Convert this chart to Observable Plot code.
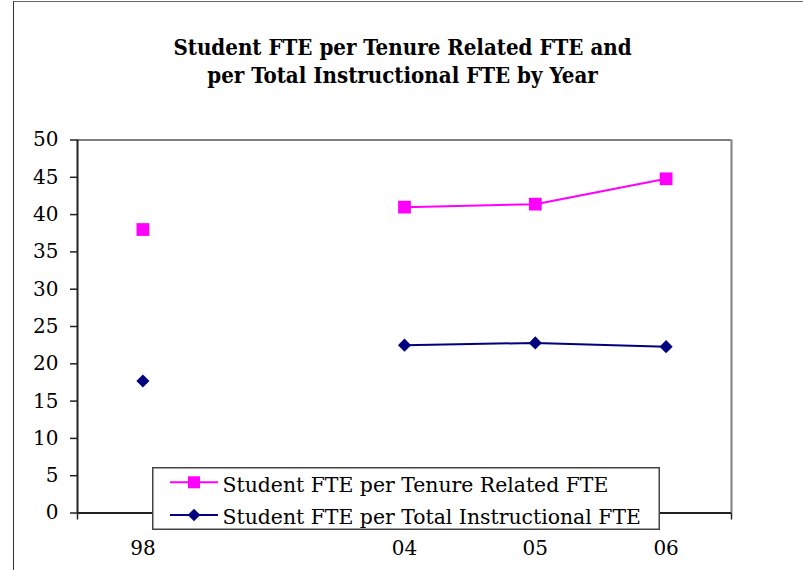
<!DOCTYPE html>
<html><head><meta charset="utf-8">
<script src="https://cdn.jsdelivr.net/npm/d3@7"></script>
<script src="https://cdn.jsdelivr.net/npm/@observablehq/plot@0.6"></script>
<style>
body{margin:0;background:#fff;}
#wrap{position:relative;width:803px;height:570px;overflow:hidden;background:#fff;font-family:"DejaVu Serif",serif;}
#frame{position:absolute;left:13px;top:1px;width:820px;height:600px;border-left:1.5px solid #333;border-top:1.5px solid #666;pointer-events:none;}
#title{position:absolute;left:0;top:34.3px;width:805px;text-align:center;font-family:"DejaVu Serif Condensed","DejaVu Serif",serif;font-stretch:condensed;font-weight:bold;font-size:22.1px;line-height:27.6px;color:#000;white-space:nowrap;}
#chart{position:absolute;left:0;top:120px;}
#legend{position:absolute;left:152px;top:467px;}
#legend text{font-family:"DejaVu Serif",serif;font-size:20.4px;}
</style>
</head><body>
<div id="wrap">
  <div id="title">Student FTE per Tenure Related FTE and<br>per Total Instructional FTE by Year</div>
  <div id="chart"></div>
  <div id="legend"></div>
  <div id="frame"></div>
</div>
<script>
const years = ["98", "", "04", "05", "06"];
const tenureRelated = [38.0, null, 41.0, 41.4, 44.8];
const totalInstructional = [17.7, null, 22.5, 22.8, 22.3];
const yTicks = [0, 5, 10, 15, 20, 25, 30, 35, 40, 45, 50];
const seriesNames = ["Student FTE per Tenure Related FTE", "Student FTE per Total Instructional FTE"];
const pink = "#FF00FF", navy = "#000080";

const tenureRows = years.map((year, i) => ({i, year, v: tenureRelated[i]}));
const instrRows = years.map((year, i) => ({i, year, v: totalInstructional[i]}));
const idx = years.map((d, i) => i);
const bounds = years.map((d, i) => i - 0.5).concat([years.length - 0.5]);

const chart = Plot.plot({
  width: 803, height: 450,
  marginLeft: 77, marginRight: 72, marginTop: 19.5, marginBottom: 57.5,
  x: {type: "linear", domain: [-0.5, years.length - 0.5]},
  y: {domain: [0, 50]},
  style: {fontFamily: '"DejaVu Serif", serif', fontSize: "20px", color: "#000", background: "white", overflow: "visible"},
  marks: [
    Plot.ruleY([50], {stroke: "#808080", strokeWidth: 2}),
    Plot.ruleX([years.length - 0.5], {stroke: "#808080", strokeWidth: 2}),
    Plot.axisX({ticks: bounds, tickSize: 7, tickFormat: () => "", label: null, stroke: "#222", strokeWidth: 1.5}),
    Plot.axisX({ticks: idx, tickSize: 0, tickPadding: 28, tickFormat: i => years[i], label: null, fontSize: 20}),
    Plot.axisY({ticks: yTicks, tickSize: 7, tickPadding: 12, label: null, fontSize: 20, stroke: "#222", strokeWidth: 1.5}),
    Plot.ruleX([-0.5], {stroke: "#222", strokeWidth: 2}),
    Plot.ruleY([0], {stroke: "#222", strokeWidth: 2}),
    Plot.line(tenureRows, {x: "i", y: "v", stroke: pink, strokeWidth: 2}),
    Plot.dot(tenureRows, {x: "i", y: "v", symbol: "square", r: 7.2, fill: pink, stroke: null}),
    Plot.line(instrRows, {x: "i", y: "v", stroke: navy, strokeWidth: 2}),
    Plot.dot(instrRows, {x: "i", y: "v", symbol: "diamond2", r: 5.9, fill: navy, stroke: null})
  ]
});
document.getElementById("chart").appendChild(chart);

// legend
const lw = 508, lh = 63;
const leg = d3.select("#legend").append("svg").attr("width", lw).attr("height", lh);
leg.append("rect").attr("x", 0.75).attr("y", 0.75).attr("width", lw - 1.5).attr("height", lh - 1.5)
  .attr("fill", "white").attr("stroke", "#444").attr("stroke-width", 1.5);
const rowsY = [15.3, 48];
const colors = [pink, navy];
seriesNames.forEach((name, k) => {
  const cy = rowsY[k];
  leg.append("line").attr("x1", 18).attr("x2", 66).attr("y1", cy).attr("y2", cy)
    .attr("stroke", colors[k]).attr("stroke-width", 2);
  if (k === 0) {
    leg.append("rect").attr("x", 42 - 6).attr("y", cy - 6).attr("width", 12).attr("height", 12).attr("fill", pink);
  } else {
    leg.append("path").attr("d", `M42,${cy - 6.3}L48.3,${cy}L42,${cy + 6.3}L35.7,${cy}Z`).attr("fill", navy);
  }
  leg.append("text").attr("x", 70.5).attr("y", cy + 9.2).attr("fill", "#000").text(name);
});
</script>
</body></html>
